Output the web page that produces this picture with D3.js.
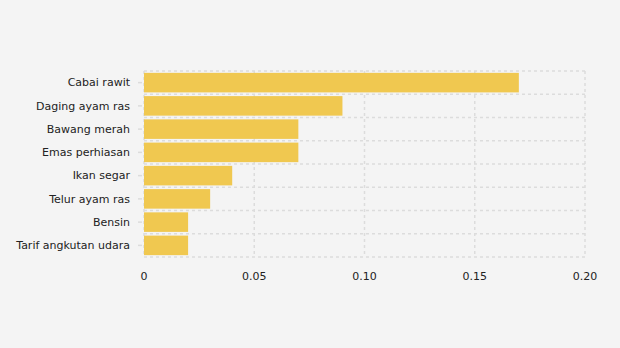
<!DOCTYPE html>
<html>
<head>
<meta charset="utf-8">
<script src="https://cdn.jsdelivr.net/npm/d3@7"></script>
<style>
  html, body { margin: 0; padding: 0; background: #f4f4f4; }
  svg { display: block; font-family: "DejaVu Sans", Verdana, sans-serif; }
</style>
</head>
<body>
<svg id="chart" width="620" height="348"></svg>
<script>
// Commodity names and their contribution values
const categories = [
  "Cabai rawit",
  "Daging ayam ras",
  "Bawang merah",
  "Emas perhiasan",
  "Ikan segar",
  "Telur ayam ras",
  "Bensin",
  "Tarif angkutan udara"
];
const values = [0.17, 0.09, 0.07, 0.07, 0.04, 0.03, 0.02, 0.02];
const xTicks = [0, 0.05, 0.10, 0.15, 0.20];
const xTickLabels = ["0", "0.05", "0.10", "0.15", "0.20"];

const svg = d3.select("#chart");
const margin = { left: 144, right: 35, top: 71, bottom: 91 };
const W = 620, H = 348;
const innerW = W - margin.left - margin.right;
const innerH = H - margin.top - margin.bottom;

const g = svg.append("g").attr("transform", `translate(${margin.left},${margin.top})`);

const x = d3.scaleLinear().domain([0, 0.2]).range([0, innerW]);
const y = d3.scaleBand().domain(categories).range([0, innerH]).paddingInner(0.16).paddingOuter(0.08);

const gridColor = "#dcdcdc";

// Vertical grid lines at ticks
g.selectAll(".vgrid").data(xTicks).join("line")
  .attr("x1", d => x(d)).attr("x2", d => x(d))
  .attr("y1", 0).attr("y2", innerH)
  .attr("stroke", gridColor).attr("stroke-width", 1.5).attr("stroke-dasharray", "3,3");

// Horizontal grid lines at band boundaries
const step = y.step();
const bounds = d3.range(categories.length + 1).map(i => i * innerH / categories.length);
g.selectAll(".hgrid").data(bounds).join("line")
  .attr("x1", 0).attr("x2", innerW)
  .attr("y1", d => d).attr("y2", d => d)
  .attr("stroke", gridColor).attr("stroke-width", 1.5).attr("stroke-dasharray", "3,3");

// Bars
g.selectAll(".bar").data(values).join("rect")
  .attr("x", x(0))
  .attr("y", (d, i) => y(categories[i]))
  .attr("width", d => x(d) - x(0))
  .attr("height", y.bandwidth())
  .attr("fill", "#f0c850");

// Y axis labels and small tick marks
const yAxis = g.append("g");
categories.forEach(c => {
  const cy = y(c) + y.bandwidth() / 2;
  yAxis.append("line")
    .attr("x1", -6).attr("x2", -2).attr("y1", cy).attr("y2", cy)
    .attr("stroke", gridColor).attr("stroke-width", 1.5);
  yAxis.append("text")
    .attr("x", -14).attr("y", cy).attr("dy", "0.35em")
    .attr("text-anchor", "end")
    .attr("font-size", 11)
    .attr("fill", "#222")
    .text(c);
});

// X axis tick labels
g.append("g").selectAll("text").data(xTicks).join("text")
  .attr("x", d => x(d))
  .attr("y", innerH + 23)
  .attr("text-anchor", "middle")
  .attr("font-size", 11)
  .attr("fill", "#222")
  .text((d, i) => xTickLabels[i]);
</script>
</body>
</html>
